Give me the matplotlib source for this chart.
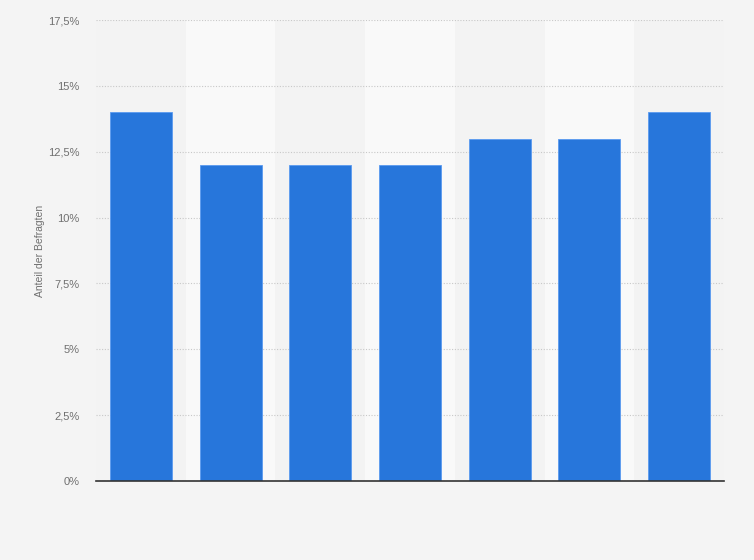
import matplotlib
matplotlib.use("Agg")
import matplotlib.pyplot as plt
import numpy as np

categories = ["", "", "", "", "", "", ""]
values = [14, 12, 12, 12, 13, 13, 14]
yticks = [0, 2.5, 5, 7.5, 10, 12.5, 15, 17.5]
ytick_labels = ["0%", "2,5%", "5%", "7,5%", "10%", "12,5%", "15%", "17,5%"]
ylabel = "Anteil der Befragten"

plt.rcParams["font.family"] = ["Liberation Sans", "DejaVu Sans"]

fig = plt.figure(figsize=(7.54, 5.6), dpi=100, facecolor="#f4f4f4")
ax = fig.add_axes([96/754, 1-481/560, 628/754, 461/560])
ax.set_facecolor("#f3f3f3")

x = np.arange(len(values))
for i in x:
    if i % 2 == 1:
        ax.axvspan(i - 0.5, i + 0.5, color="#f9f9f9", zorder=0, lw=0)

ax.bar(x, values, width=0.69, color="#2776db", edgecolor="#5a9af0", linewidth=0.6, zorder=3)

ax.set_xlim(-0.5, len(values) - 0.5)
ax.set_ylim(0, 17.5)
ax.set_yticks(yticks)
ax.set_yticklabels(ytick_labels)
ax.set_xticks(x)
ax.set_xticklabels(categories)
ax.tick_params(axis="y", length=0, pad=12, labelsize=8, labelcolor="#707070")
ax.tick_params(axis="x", length=0)
ax.yaxis.grid(True, linestyle=(0, (1, 1.5)), color="#c8c8c8", linewidth=0.8, zorder=1)
ax.set_axisbelow(True)
for s in ["top", "right", "left"]:
    ax.spines[s].set_visible(False)
ax.spines["bottom"].set_color("#333333")
ax.spines["bottom"].set_linewidth(1.2)
ax.spines["bottom"].set_zorder(4)

ax.set_ylabel(ylabel, fontsize=7.5, color="#707070")
ax.yaxis.set_label_coords(-0.081, 0.5)

fig.savefig("out.png", dpi=100, facecolor=fig.get_facecolor())
